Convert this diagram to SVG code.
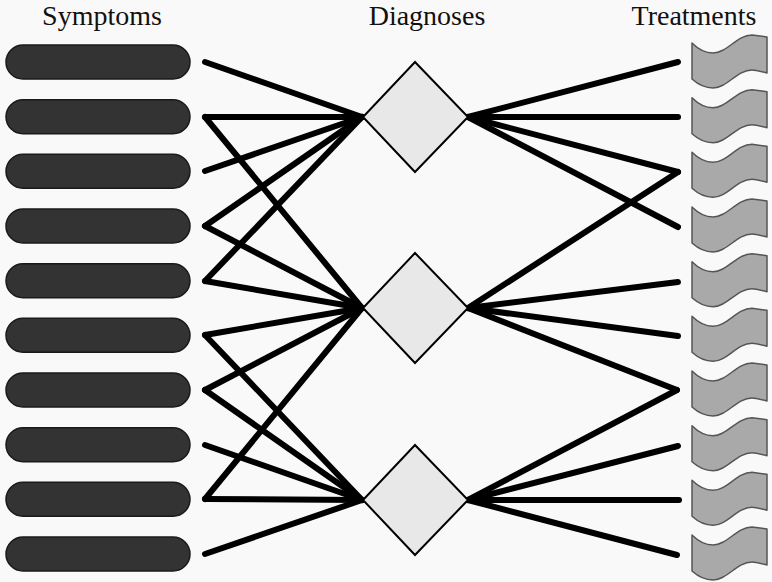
<svg xmlns="http://www.w3.org/2000/svg" width="772" height="582" viewBox="0 0 772 582">
<style>
.pill{fill:#333;stroke:#1a1a1a;stroke-width:1.5}
.dia{fill:#e8e8e8;stroke:#000;stroke-width:2}
.flag{fill:#a9a9a9;stroke:#555;stroke-width:1.5;stroke-linejoin:round}
.con line{stroke:#000;stroke-width:6;stroke-linecap:round}
</style>
<defs>
<rect id="pillShape" x="6" y="-17" width="184" height="34" rx="17" ry="17"/>
<path id="flagShape" d="M0,0 Q10,10 21,10 C35,10 45,-8 60,-8 L75,-6 L75,30 C67,28 62,27 60,27 C45,27 35,45 21,45 Q10,45 0,36 Z"/>
</defs>
<rect width="772" height="582" fill="#f9f9f9"/>
<g font-family="Liberation Serif, Times New Roman, DejaVu Serif, serif" font-size="28" fill="#111" text-anchor="middle">
<text x="102" y="25">Symptoms</text>
<text x="427" y="25">Diagnoses</text>
<text x="694" y="25">Treatments</text>
</g>

<g id="connectors" class="con">
<line x1="205" y1="62" x2="362" y2="117"/>
<line x1="205" y1="117" x2="362" y2="117"/>
<line x1="205" y1="171" x2="362" y2="117"/>
<line x1="205" y1="226" x2="362" y2="117"/>
<line x1="205" y1="281" x2="362" y2="117"/>
<line x1="205" y1="117" x2="362" y2="308"/>
<line x1="205" y1="226" x2="362" y2="308"/>
<line x1="205" y1="281" x2="362" y2="308"/>
<line x1="205" y1="335" x2="362" y2="308"/>
<line x1="205" y1="390" x2="362" y2="308"/>
<line x1="205" y1="499" x2="362" y2="308"/>
<line x1="205" y1="335" x2="362" y2="500"/>
<line x1="205" y1="390" x2="362" y2="500"/>
<line x1="205" y1="445" x2="362" y2="500"/>
<line x1="205" y1="499" x2="362" y2="500"/>
<line x1="205" y1="554" x2="362" y2="500"/>
<line x1="468" y1="117" x2="678" y2="62"/>
<line x1="468" y1="117" x2="678" y2="117"/>
<line x1="468" y1="117" x2="678" y2="172"/>
<line x1="468" y1="117" x2="678" y2="227"/>
<line x1="468" y1="308" x2="678" y2="172"/>
<line x1="468" y1="308" x2="678" y2="282"/>
<line x1="468" y1="308" x2="678" y2="336"/>
<line x1="468" y1="308" x2="677" y2="390"/>
<line x1="468" y1="500" x2="677" y2="390"/>
<line x1="468" y1="500" x2="678" y2="446"/>
<line x1="468" y1="500" x2="679" y2="500"/>
<line x1="468" y1="500" x2="677" y2="555"/>
</g>

<g id="symptom1"><use href="#pillShape" class="pill" y="62"/></g>
<g id="symptom2"><use href="#pillShape" class="pill" y="116.7"/></g>
<g id="symptom3"><use href="#pillShape" class="pill" y="171.3"/></g>
<g id="symptom4"><use href="#pillShape" class="pill" y="226"/></g>
<g id="symptom5"><use href="#pillShape" class="pill" y="280.7"/></g>
<g id="symptom6"><use href="#pillShape" class="pill" y="335.3"/></g>
<g id="symptom7"><use href="#pillShape" class="pill" y="390"/></g>
<g id="symptom8"><use href="#pillShape" class="pill" y="444.7"/></g>
<g id="symptom9"><use href="#pillShape" class="pill" y="499.3"/></g>
<g id="symptom10"><use href="#pillShape" class="pill" y="554"/></g>

<g id="diagnosis1"><polygon class="dia" points="415,62 468,117 415,172 363,117"/></g>
<g id="diagnosis2"><polygon class="dia" points="415,253 468,308 415,363 363,308"/></g>
<g id="diagnosis3"><polygon class="dia" points="415,445 468,500 415,555 363,500"/></g>

<g id="treatment1"><use href="#flagShape" class="flag" x="692" y="43"/></g>
<g id="treatment2"><use href="#flagShape" class="flag" x="692" y="97.7"/></g>
<g id="treatment3"><use href="#flagShape" class="flag" x="692" y="152.3"/></g>
<g id="treatment4"><use href="#flagShape" class="flag" x="692" y="207"/></g>
<g id="treatment5"><use href="#flagShape" class="flag" x="692" y="261.7"/></g>
<g id="treatment6"><use href="#flagShape" class="flag" x="692" y="316.3"/></g>
<g id="treatment7"><use href="#flagShape" class="flag" x="692" y="371"/></g>
<g id="treatment8"><use href="#flagShape" class="flag" x="692" y="425.7"/></g>
<g id="treatment9"><use href="#flagShape" class="flag" x="692" y="480.3"/></g>
<g id="treatment10"><use href="#flagShape" class="flag" x="692" y="535"/></g>
</svg>
